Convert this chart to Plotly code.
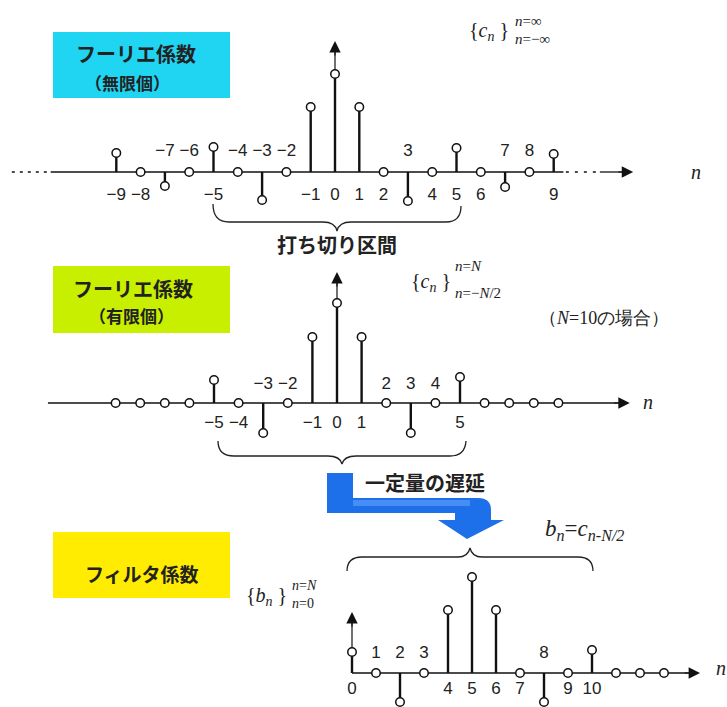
import plotly.graph_objects as go

W, H = 727, 707

# ---------------- data ----------------
n_inf = list(range(-9, 10))
c_inf = [0.19, 0, -0.14, 0, 0.25, 0, -0.28, 0, 0.65, 0.98, 0.65, 0, -0.29, 0, 0.24, 0, -0.15, 0, 0.18]
lab_inf = ['−9', '−8', '−7', '−6', '−5', '−4', '−3', '−2', '−1', '0',
           '1', '2', '3', '4', '5', '6', '7', '8', '9']

n_fin = list(range(-9, 10))
c_fin = [0, 0, 0, 0, 0.23, 0, -0.30, 0, 0.66, 1.0, 0.66, 0, -0.30, 0, 0.26, 0, 0, 0, 0]
lab_fin = ['', '', '', '', '−5', '−4', '−3', '−2', '−1', '0',
           '1', '2', '3', '4', '5', '', '', '', '']

n_filt = list(range(0, 14))
b_filt = [0.21, 0, -0.29, 0, 0.63, 0.96, 0.63, 0, -0.29, 0, 0.23, 0, 0, 0]
lab_filt = ['0', '1', '2', '3', '4', '5', '6', '7', '8', '9', '10', '', '', '']

# ---------------- style / layout config ----------------
LBL_FONT = dict(family="Liberation Sans", size=17, color="#222")
panels = [
    dict(n=n_inf, v=c_inf, lab=lab_inf, above={-7, -6, -4, -3, -2, 3, 7, 8},
         x0=335, dx=24.3, y0=172, sy=100, up=0.20, dn=-0.24),
    dict(n=n_fin, v=c_fin, lab=lab_fin, above={-3, -2, 2, 3, 4},
         x0=337, dx=24.6, y0=403, sy=100, up=0.18, dn=-0.21),
    dict(n=n_filt, v=b_filt, lab=lab_filt, above={1, 2, 3, 8},
         x0=352, dx=24.0, y0=673, sy=100, up=0.19, dn=-0.17),
]

fig = go.Figure()
layout = dict(width=W, height=H, margin=dict(l=0, r=0, t=0, b=0, pad=0),
              paper_bgcolor="white", plot_bgcolor="rgba(0,0,0,0)", showlegend=False)

axkeys = ['', '2', '3']
for i, p in enumerate(panels):
    k = axkeys[i]
    xa = dict(range=[-p['x0'] / p['dx'], (W - p['x0']) / p['dx']], visible=False,
              domain=[0, 1], anchor='y' + k, fixedrange=True)
    ya = dict(range=[(p['y0'] - H) / p['sy'], p['y0'] / p['sy']], visible=False,
              domain=[0, 1], anchor='x' + k, fixedrange=True)
    if i > 0:
        xa['overlaying'] = 'x'
        ya['overlaying'] = 'y'
    layout['xaxis' + k] = xa
    layout['yaxis' + k] = ya
layout['xaxis4'] = dict(range=[0, W], visible=False, domain=[0, 1], overlaying='x', anchor='y4')
layout['yaxis4'] = dict(range=[H, 0], visible=False, domain=[0, 1], overlaying='y', anchor='x4')

annotations = []
shapes = []

def line_tr(x, y, xr, yr, width=1.6, dash=None, color='#111'):
    fig.add_trace(go.Scatter(x=x, y=y, mode='lines', xaxis=xr, yaxis=yr, hoverinfo='skip',
                             line=dict(color=color, width=width, dash=dash)))

def arrowhead(x, y, ax, ay, xr, yr, size=1.9):
    annotations.append(dict(x=x, y=y, ax=ax, ay=ay, xref=xr, yref=yr, axref=xr, ayref=yr,
                            text='', showarrow=True, arrowhead=2, arrowsize=size,
                            arrowwidth=1.2, arrowcolor='#111'))

# panel 1 (infinite) axis
line_tr([-13.3, -11.7], [0, 0], 'x', 'y', width=1.5, dash='3px,5px')
line_tr([-11.7, 9.4], [0, 0], 'x', 'y', width=1.6)
line_tr([9.5, 10.8], [0, 0], 'x', 'y', width=1.5, dash='3px,6px')
line_tr([10.9, 12.0], [0, 0], 'x', 'y', width=1.3)
arrowhead(12.27, 0, 11.6, 0, 'x', 'y')
line_tr([0, 0], [0, 1.25], 'x', 'y', width=1.2)
arrowhead(0, 1.31, 0, 1.15, 'x', 'y')
# panel 2 (finite) axis
line_tr([-11.75, 11.5], [0, 0], 'x2', 'y2', width=1.6)
arrowhead(11.9, 0, 11.2, 0, 'x2', 'y2')
line_tr([0, 0], [0, 1.25], 'x2', 'y2', width=1.2)
arrowhead(0, 1.31, 0, 1.15, 'x2', 'y2')
# panel 3 (filter) axis
line_tr([0, 14.1], [0, 0], 'x3', 'y3', width=1.6)
arrowhead(14.5, 0, 13.8, 0, 'x3', 'y3')
line_tr([0, 0], [0, 0.55], 'x3', 'y3', width=1.2)
arrowhead(0, 0.61, 0, 0.45, 'x3', 'y3')

# stems, markers, labels
for i, p in enumerate(panels):
    k = axkeys[i]
    xr, yr = 'x' + k, 'y' + k
    sx, sy = [], []
    for n, v in zip(p['n'], p['v']):
        if v != 0:
            sx += [n, n, None]
            sy += [0, v, None]
    fig.add_trace(go.Scatter(x=sx, y=sy, mode='lines', xaxis=xr, yaxis=yr, hoverinfo='skip',
                             line=dict(color='#111', width=2.4)))
    fig.add_trace(go.Scatter(x=p['n'], y=p['v'], mode='markers', xaxis=xr, yaxis=yr,
                             hoverinfo='skip', cliponaxis=False,
                             marker=dict(symbol='circle', size=8.5, color='white',
                                         line=dict(color='#111', width=1.5))))
    lx, ly, lt = [], [], []
    for n, t in zip(p['n'], p['lab']):
        if t:
            lx.append(n)
            ly.append(p['up'] if n in p['above'] else p['dn'])
            lt.append(t)
    fig.add_trace(go.Scatter(x=lx, y=ly, text=lt, mode='text', xaxis=xr, yaxis=yr,
                             hoverinfo='skip', textposition='middle center', textfont=LBL_FONT))

# ---------------- decorations (pixel coordinates) ----------------
JP = "Noto Sans CJK JP"
SERIF = "Liberation Serif"

def px_text(x, y, text, size, family=JP, xanchor='center', color='#222'):
    annotations.append(dict(x=x, y=y, xref='x4', yref='y4', text=text, showarrow=False,
                            xanchor=xanchor, yanchor='middle',
                            font=dict(family=family, size=size, color=color)))

# label boxes
for (y0, y1, col) in [(32, 98, '#1fd5f2'), (266, 333, '#c8ef00'), (532, 598, '#ffec00')]:
    shapes.append(dict(type='rect', xref='x4', yref='y4', x0=53, x1=230, y0=y0, y1=y1,
                       fillcolor=col, line=dict(width=0), layer='below'))
px_text(136, 53, '<b>フーリエ係数</b>', 20)
px_text(127, 82, '<b>（無限個）</b>', 17)
px_text(133, 288, '<b>フーリエ係数</b>', 20)
px_text(131, 315, '<b>（有限個）</b>', 17)
px_text(142, 573, '<b>フィルタ係数</b>', 19)

# braces
brace_style = dict(color='#222', width=1.3)
shapes.append(dict(type='path', xref='x4', yref='y4', line=brace_style,
                   path='M213,204 Q213,222 229,222 L323,222 Q335,222 337,231 Q339,222 351,222 L446,222 Q461,222 461,206'))
shapes.append(dict(type='path', xref='x4', yref='y4', line=brace_style,
                   path='M218,441 Q218,456 234,456 L328,456 Q340,456 342,464 Q344,456 356,456 L450,456 Q465,456 466,441'))
shapes.append(dict(type='path', xref='x4', yref='y4', line=brace_style,
                   path='M347,571 Q347,557 362,557 L458,557 Q468,557 470,548 Q472,557 482,557 L578,557 Q593,557 593,571'))

px_text(337, 244, '<b>打ち切り区間</b>', 20)

# blue delay arrow
shapes.append(dict(type='path', xref='x4', yref='y4', fillcolor='#1e6fea', line=dict(width=0),
                   path='M327,473 L353,473 L353,498 L478,498 Q491,498 491,510 L491,520 L504,520 '
                        'L467,539 L438,520 L455,520 L455,513 L327,513 Z'))
shapes.append(dict(type='path', xref='x4', yref='y4', fillcolor='rgba(120,180,255,0.45)', line=dict(width=0),
                   path='M353,500 L470,500 L470,506 L353,506 Z'))
px_text(425, 482, '<b>一定量の遅延</b>', 20)

# formulas
px_text(467, 31, '{<i>c<sub>n</sub></i> }', 20, SERIF, 'left')
px_text(513, 21, '<i>n</i>=∞', 15, SERIF, 'left')
px_text(513, 39, '<i>n</i>=−∞', 15, SERIF, 'left')

px_text(409, 282, '{<i>c<sub>n</sub></i> }', 20, SERIF, 'left')
px_text(453, 266, '<i>n</i>=<i>N</i>', 15, SERIF, 'left')
px_text(453, 293, '<i>n</i>=−<i>N</i>/2', 15, SERIF, 'left')
px_text(537, 318, '（<i>N</i>=10の場合）', 18, SERIF, 'left')

px_text(244, 596, '{<i>b<sub>n</sub></i> }', 20, SERIF, 'left')
px_text(290, 585, '<i>n</i>=<i>N</i>', 14, SERIF, 'left')
px_text(290, 603, '<i>n</i>=0', 14, SERIF, 'left')

px_text(543, 530, '<i>b<sub>n</sub></i>=<i>c<sub>n-N/2</sub></i>', 23, SERIF, 'left')

# axis names
px_text(696, 172, '<i>n</i>', 20, SERIF)
px_text(648, 402, '<i>n</i>', 20, SERIF)
px_text(721, 668, '<i>n</i>', 20, SERIF)

layout['annotations'] = annotations
layout['shapes'] = shapes
fig.update_layout(**layout)

fig.write_html("out.html", config={'displayModeBar': False},
               post_script="document.body.style.margin='0';")
